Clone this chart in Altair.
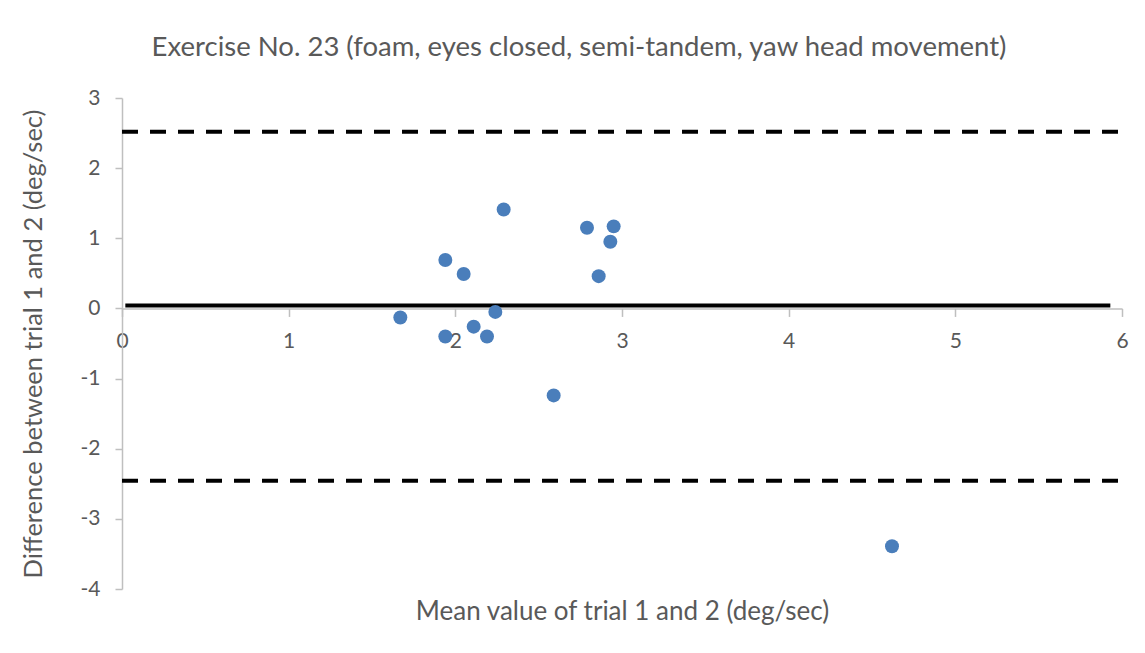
import altair as alt
import pandas as pd

# Data (Bland-Altman plot)
mean_vals = [1.67, 1.94, 1.94, 2.05, 2.11, 2.19, 2.24, 2.29, 2.59, 2.79, 2.86, 2.93, 2.95, 4.62]
diff_vals = [-0.13, 0.69, -0.40, 0.49, -0.26, -0.40, -0.05, 1.41, -1.24, 1.15, 0.46, 0.95, 1.17, -3.39]

line_names = ["upper", "mean", "lower"]
line_y = [2.52, 0.04, -2.455]
line_x_start = [0.0, 0.02, 0.0]
line_x_end = [5.98, 5.93, 5.98]
line_dash = [[16, 12], [1, 0], [16, 12]]

x_ticks = [0, 1, 2, 3, 4, 5, 6]
y_ticks = [-4, -3, -2, -1, 0, 1, 2, 3]

W, H = 1000, 491
FONT = "Lato"
GREY_TXT = "#595959"
GREY_AX = "#bfbfbf"

pts = pd.DataFrame({"m": mean_vals, "d": diff_vals})
lines = pd.DataFrame({"name": line_names, "y": line_y, "x1": line_x_start, "x2": line_x_end})

xscale = alt.Scale(domain=[0, 6], nice=False, zero=False)
yscale = alt.Scale(domain=[-4, 3], nice=False, zero=False)

y_zero_offset = -(H - H * 3 / 7)

x_axis = alt.Axis(
    values=x_ticks, title="Mean value of trial 1 and 2 (deg/sec)",
    labelExpr="'' + datum.value", labelFlush=False,
    offset=y_zero_offset, tickSize=8, labelPadding=25, labelBaseline="middle",
    titleX=W / 2, titleY=303, titleBaseline="middle", titleFontSize=26,
    labelFontSize=21,
)
y_axis = alt.Axis(
    values=y_ticks, title="Difference between trial 1 and 2 (deg/sec)",
    labelExpr="'' + datum.value", labelFlush=False,
    tickSize=7, labelPadding=15, titleX=-89, titleY=H / 2,
    titleBaseline="middle", titleFontSize=25.5, labelFontSize=21,
)

points = alt.Chart(pts).mark_circle(size=195, color="#4a7ebb", opacity=1).encode(
    x=alt.X("m:Q", scale=xscale, axis=x_axis),
    y=alt.Y("d:Q", scale=yscale, axis=y_axis),
)

def rule(name, dash):
    return alt.Chart(lines[lines["name"] == name]).mark_rule(
        color="black", strokeWidth=4, strokeDash=dash
    ).encode(
        x=alt.X("x1:Q", scale=xscale),
        x2="x2:Q",
        y=alt.Y("y:Q", scale=yscale),
    )

layers = [rule(n, d) for n, d in zip(line_names, line_dash)]

chart = alt.layer(*layers, points).properties(
    width=W, height=H,
    title=alt.TitleParams(
        "Exercise No. 23 (foam, eyes closed, semi-tandem, yaw head movement)",
        font=FONT, fontSize=27.5, fontWeight="normal", color=GREY_TXT,
        anchor="middle", dx=-43, offset=26,
    ),
    autosize=alt.AutoSizeParams(type="none"),
    padding={"left": 114, "top": 90, "right": 15, "bottom": 50},
    background="white",
).configure_view(stroke=None).configure_axis(
    grid=False, domainColor=GREY_AX, tickColor=GREY_AX, domainWidth=1.5, tickWidth=1.5,
    labelColor=GREY_TXT, titleColor=GREY_TXT, labelFont=FONT, titleFont=FONT,
    titleFontWeight="normal",
)

chart.save("out.html", embed_options={"renderer": "svg", "actions": False})
